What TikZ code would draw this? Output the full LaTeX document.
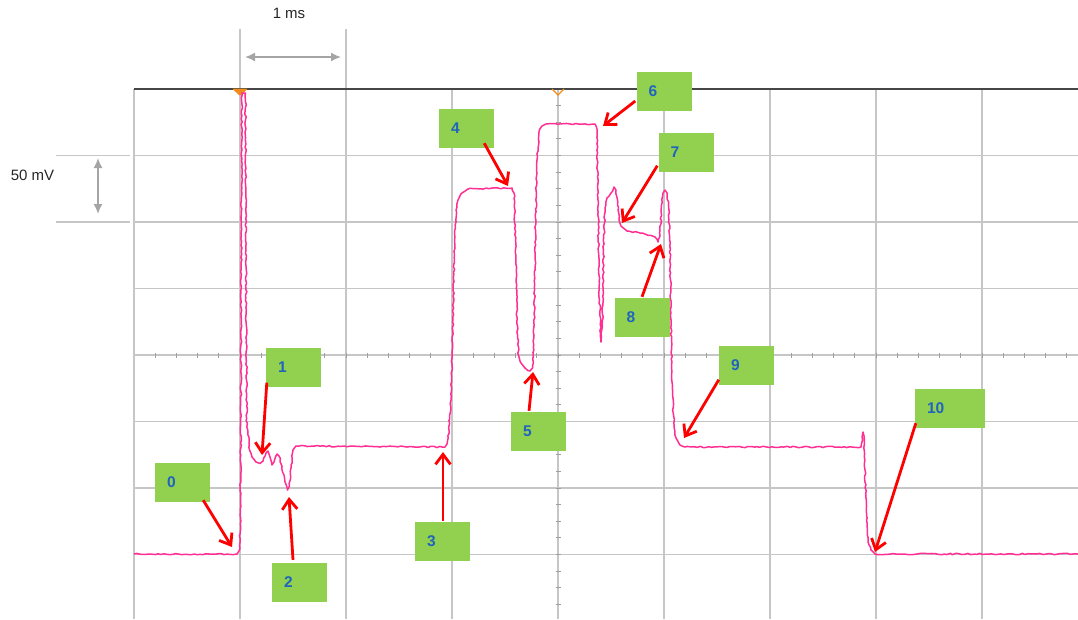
\documentclass[tikz,border=0pt]{standalone}
\usepackage{fontspec}
\setmainfont{Liberation Sans}
\usetikzlibrary{arrows.meta,decorations.pathmorphing,calc}
\definecolor{gridgray}{RGB}{198,198,198}
\definecolor{dimgray}{RGB}{165,165,165}
\definecolor{axisdark}{RGB}{70,70,70}
\definecolor{trace}{RGB}{255,46,147}
\definecolor{boxgreen}{RGB}{146,208,80}
\definecolor{labelblue}{RGB}{31,100,190}
\definecolor{trig}{RGB}{240,140,30}
\tikzset{
  gridline/.style={gridgray, line width=1.4pt},
  tickline/.style={gridgray!80!black, line width=0.8pt},
  labelbox/.style={fill=boxgreen, minimum height=39pt, inner xsep=12pt, inner ysep=0pt,
    text width=31pt, align=left, text=labelblue, font=\bfseries\fontsize{15.5}{16}\selectfont},
  widebox/.style={labelbox, text width=46pt},
  redarrow/.style={red, line width=2.8pt, -{Straight Barb[length=10pt,width=15pt]}},
  dimarrow/.style={dimgray, line width=1.6pt, {Latex[length=10pt,width=9pt]}-{Latex[length=10pt,width=9pt]}},
  dimtext/.style={font=\fontsize{15}{17}\selectfont, text=black!85},
  tracestyle/.style={trace, line width=1.5pt, line join=round,
    decorate, decoration={random steps, segment length=3pt, amplitude=0.7pt}}
}
\begin{document}
\begin{tikzpicture}[x=1pt,y=-1pt]
\useasboundingbox (0,0) rectangle (1078,619);
% grid
\foreach \yy in {155.5,222,288.5,355,421.5,488,554.5}
  \draw[gridline] (134,\yy) -- (1078,\yy);
\foreach \xx in {134,452,558,664,770,876,982}
  \draw[gridline] (\xx,89) -- (\xx,619);
\foreach \xx in {240,346}
  \draw[gridline] (\xx,29) -- (\xx,619);
\draw[gridline] (56,155.5) -- (130,155.5);
\draw[gridline] (56,222) -- (130,222);
% ticks on centre lines
\foreach \i in {1,...,44}
  \draw[tickline] (134+\i*21.2,352.5) -- (134+\i*21.2,357.5);
\foreach \i in {1,...,31}
  \draw[tickline] (555.5,89+\i*16.625) -- (560.5,89+\i*16.625);
% top line
\draw[axisdark, line width=1.4pt] (134,89) -- (1078,89);
% trigger markers
\fill[trig, rounded corners=1pt] (232,88.5) -- (248,88.5) -- (240,96) -- cycle;
\draw[trig, line width=1.2pt] (552,89) -- (558,95) -- (564,89);
% dimensions
\coordinate (msL) at (245,57);
\coordinate (msR) at (341,57);
\draw[dimarrow] (msL) -- (msR);
\node[dimtext] (ms) at (289,13) {1 ms};
\coordinate (mvT) at (98,158);
\coordinate (mvB) at (98,214);
\draw[dimarrow] (mvT) -- (mvB);
\node[dimtext] (mv) at (32.5,175) {50 mV};
% trace
\pgfmathsetseed{4}
\draw[tracestyle] (134,554) -- (237,554) -- (239,551) -- (240.5,530) -- (241.5,200) -- (242,93) -- (245.5,93) -- (246,250) -- (246.8,427) -- (248,432) -- (249.5,450) -- (252,457) -- (256,462) -- (260,463.5) -- (263,461) -- (266,453) -- (268,451) -- (270,457) -- (272,465) -- (274,462) -- (277,454) -- (279,456) -- (282,466) -- (285,482) -- (287.5,490) -- (289.5,486) -- (291,468) -- (293,450) -- (296,446) -- (445,447) -- (447,444) -- (449,430) -- (451,400) -- (453,320) -- (454.5,240) -- (456,210) -- (458,200) -- (462,193) -- (468,189) -- (512,188) -- (514,193) -- (515.5,240) -- (517,320) -- (518.5,355) -- (521,363) -- (525,368) -- (530,371) -- (532.5,368) -- (534,335) -- (535.5,230) -- (537,160) -- (539,132) -- (542,126) -- (546,124) -- (595,124) -- (597,132) -- (598,200) -- (599.5,300) -- (601,342) -- (602.5,320) -- (603.5,250) -- (605,208) -- (607,198) -- (611,193) -- (614,187) -- (616,190) -- (617.5,205) -- (619,220) -- (622,227) -- (627,231) -- (640,233) -- (655,237) -- (658,242) -- (660,236) -- (661.5,205) -- (663,193) -- (665,190) -- (667,193) -- (669,210) -- (670.5,280) -- (671.5,350) -- (672.5,395) -- (674,425) -- (676,438) -- (680,445) -- (685,447) -- (861,447) -- (862.5,440) -- (863,432) -- (864,436) -- (865,470) -- (866.5,520) -- (868,542) -- (871,550) -- (875,554) -- (1078,554);
% label boxes
\node[labelbox] (b0) at (182.5,482.5) {0};
\node[labelbox] (b1) at (293.5,367) {1};
\node[labelbox] (b2) at (299.5,582.5) {2};
\node[labelbox] (b3) at (442.5,541.5) {3};
\node[labelbox] (b4) at (466.5,128.5) {4};
\node[labelbox] (b5) at (538.5,431.5) {5};
\node[labelbox] (b6) at (664,91.5) {6};
\node[labelbox] (b7) at (686,152) {7};
\node[labelbox] (b8) at (642,317.5) {8};
\node[labelbox] (b9) at (746.5,365) {9};
\node[widebox] (b10) at (950,408.5) {10};
% arrow targets
\coordinate (t0) at (232,547);
\coordinate (t1) at (262,455);
\coordinate (t2) at (289,497);
\coordinate (t3) at (443,452);
\coordinate (t4) at (508,186);
\coordinate (t5) at (533,372);
\coordinate (t6) at (603,126);
\coordinate (t7) at (622,223);
\coordinate (t8) at (661,244);
\coordinate (t9) at (684,438);
\coordinate (t10) at (875,552);
% arrows
\draw[redarrow] ([xshift=-7pt,yshift=2pt]b0.south east) -- (t0);
\draw[redarrow] ([xshift=1pt,yshift=4pt]b1.south west) -- (t1);
\draw[redarrow] ([xshift=-6.5pt,yshift=3pt]b2.north) -- (t2);
\draw[redarrow] ([xshift=0.5pt,yshift=1pt]b3.north) -- (t3);
\draw[redarrow] ([xshift=-10pt,yshift=5pt]b4.south east) -- (t4);
\draw[redarrow] ([xshift=-9.5pt,yshift=1pt]b5.north) -- (t5);
\draw[redarrow] ([xshift=-1pt,yshift=-9.5pt]b6.west) -- (t6);
\draw[redarrow] ([xshift=-1pt,yshift=6pt]b7.south west) -- (t7);
\draw[redarrow] ([xshift=0pt,yshift=1pt]b8.north) -- (t8);
\draw[redarrow] ([xshift=0pt,yshift=5pt]b9.south west) -- (t9);
\draw[redarrow] ([xshift=1pt,yshift=5pt]b10.south west) -- (t10);
\end{tikzpicture}
\end{document}
